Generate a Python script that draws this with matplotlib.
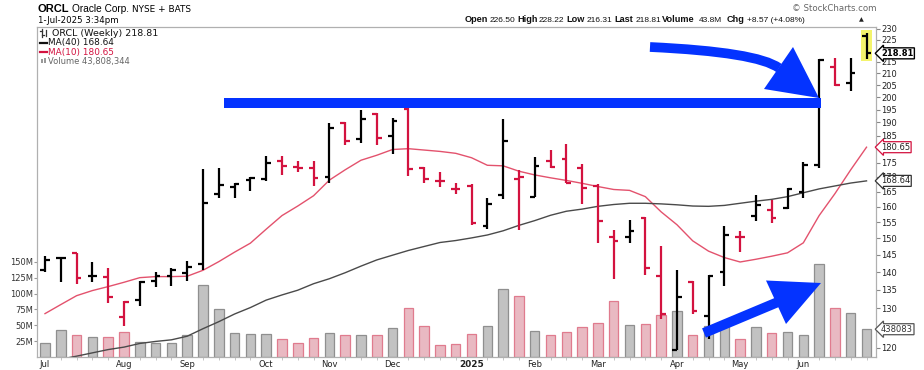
import numpy as np
import pandas as pd
import matplotlib
matplotlib.use("Agg")
import matplotlib.pyplot as plt
import matplotlib.ticker as mticker
from matplotlib.patches import Rectangle, Polygon, PathPatch
from matplotlib.path import Path
from matplotlib.lines import Line2D
from matplotlib.transforms import Affine2D, blended_transform_factory

# ---------------- data (weekly ORCL) ----------------
week_start = "2024-07-01"
prev_close_before = 141.2

opens = [140.6, 144.0, 145.4, 139.0, 138.6, 127.8, 132.1, 137.4, 139.0, 139.7,
         142.3, 164.3, 166.5, 168.9, 169.2, 175.6, 173.5, 173.3, 169.9, 189.9,
         183.7, 193.4, 184.7, 195.3, 173.0, 168.7, 166.0, 166.9, 153.9, 163.9,
         169.2, 163.3, 175.7, 176.5, 173.3, 166.9, 150.3, 150.5, 156.3, 138.8,
         119.3, 137.2, 127.9, 140.1, 150.5, 156.9, 158.9, 159.6, 164.9, 174.2,
         213.0, 205.8, 226.50]
highs = [144.8, 144.4, 145.6, 142.8, 141.1, 131.9, 137.4, 140.1, 141.3, 143.3,
         172.8, 173.1, 167.8, 169.9, 177.6, 177.6, 175.5, 175.7, 189.7, 190.3,
         195.0, 193.7, 191.7, 195.7, 173.6, 171.9, 167.8, 167.7, 162.8, 191.4,
         172.5, 177.2, 179.5, 182.0, 174.6, 167.4, 152.6, 155.7, 156.5, 147.7,
         140.6, 137.4, 139.2, 153.7, 152.1, 163.7, 162.2, 166.3, 175.3, 216.4,
         216.6, 216.9, 228.22]
lows = [140.1, 137.1, 136.7, 137.1, 131.4, 125.4, 130.7, 135.8, 136.2, 137.4,
        140.6, 162.8, 162.8, 165.1, 168.7, 170.7, 171.9, 166.8, 168.0, 181.5,
        182.2, 181.5, 178.2, 170.5, 168.0, 166.6, 164.2, 154.0, 152.9, 162.5,
        152.7, 163.1, 173.2, 167.8, 160.9, 148.5, 137.9, 148.7, 139.2, 127.2,
        119.3, 128.6, 122.0, 136.0, 145.9, 155.3, 154.8, 159.2, 163.0, 173.1,
        204.8, 202.6, 216.31]
closes = [143.6, 144.1, 138.3, 138.8, 133.1, 131.6, 137.1, 138.8, 140.6, 141.4,
          161.1, 167.2, 167.7, 169.8, 174.9, 173.8, 173.0, 169.6, 188.0, 183.1,
          191.3, 184.1, 190.6, 172.9, 169.2, 168.7, 166.0, 154.6, 160.8, 183.0,
          169.9, 173.8, 173.4, 168.0, 166.3, 155.3, 149.3, 152.1, 141.1, 128.6,
          133.0, 129.2, 138.9, 151.1, 150.5, 160.6, 156.4, 165.9, 174.2, 216.0,
          205.2, 210.24, 218.81]
volumes_m = [22.4, 42.4, 35.0, 30.9, 30.9, 39.2, 24.0, 22.4, 22.4, 34.0,
             113.3, 75.0, 37.7, 36.1, 36.1, 28.2, 22.4, 29.8, 37.7, 35.0,
             35.0, 35.0, 45.6, 76.6, 49.2, 18.3, 20.8, 36.6, 48.2, 107.5,
             95.5, 40.8, 35.0, 39.2, 47.1, 53.4, 87.6, 50.8, 51.9, 66.0,
             72.4, 35.0, 48.7, 48.7, 27.7, 46.6, 37.7, 39.2, 35.0, 146.9,
             76.6, 68.7, 43.808344]
ma10 = [128.6, 131.0, 133.4, 134.8, 135.9, 137.1, 138.4, 138.7, 138.7, 138.8,
        140.5, 143.0, 145.8, 148.5, 152.8, 157.1, 160.2, 163.6, 168.9, 172.5,
        175.9, 177.7, 179.8, 180.1, 179.6, 179.1, 178.4, 176.8, 174.1, 173.9,
        172.0, 170.7, 169.7, 168.8, 167.8, 166.7, 165.7, 165.4, 163.3, 158.3,
        154.2, 149.2, 146.1, 144.2, 142.9, 143.7, 144.6, 145.6, 148.6, 157.1,
        164.3, 172.5, 180.65]
ma40 = [116.5, 117.2, 117.9, 118.7, 119.5, 120.1, 121.0, 121.5, 121.9, 122.8,
        124.7, 126.5, 128.5, 130.2, 132.2, 133.6, 134.9, 136.7, 138.1, 139.8,
        141.7, 143.5, 144.9, 146.3, 147.5, 148.7, 149.3, 150.1, 151.0, 152.3,
        154.0, 155.5, 157.2, 158.5, 159.2, 160.1, 160.7, 161.1, 161.1, 160.9,
        160.6, 160.2, 160.1, 160.4, 161.1, 161.8, 162.4, 163.3, 164.6, 165.9,
        166.9, 167.9, 168.64]
price_ticks = list(range(120, 231, 5))
volume_ticks_m = [25, 50, 75, 100, 125, 150]

header_items = [("Open", True), ("226.50", False), ("High", True), ("228.22", False),
                ("Low", True), ("216.31", False), ("Last", True), ("218.81", False),
                ("Volume", True), ("43.8M", False), ("Chg", True), ("+8.57 (+4.08%)", False)]

# ---------------- figure ----------------
W, H = 924, 370
fig = plt.figure(figsize=(W / 100, H / 100), dpi=100)
L, R, T, B = 37, 876, 27, 357
rect = [L / W, 1 - B / H, (R - L) / W, (B - T) / H]
pix = Affine2D().scale(1 / W, -1 / H).translate(0, 1) + fig.transFigure

n = len(closes)
idx = np.arange(n)
dates = pd.date_range(week_start, periods=n, freq="W-MON")
o = np.array(opens); h = np.array(highs); lo = np.array(lows); c = np.array(closes)
prev = np.concatenate([[prev_close_before], c[:-1]])
up = c >= prev

BLACK = "#000000"
RED = "#d3123f"
bar_cols = np.where(up, BLACK, RED)

# volume axis (behind)
axv = fig.add_axes(rect)
ax = axv.twinx()
vfill = np.where(up, "#c2c2c2", "#e9b9c2")
vedge = np.where(up, "#8f8f8f", "#e07b8e")
axv.bar(idx, volumes_m, width=0.6, color=vfill, edgecolor=vedge, linewidth=0.9, zorder=2)
axv.set_ylim(0, (B - T) / 15.86 * 25)
axv.set_xlim(-0.506, 52.6)
axv.yaxis.set_major_locator(mticker.FixedLocator(volume_ticks_m))
axv.yaxis.set_major_formatter(mticker.FuncFormatter(lambda v, p: f"{int(v)}M"))
axv.tick_params(axis="y", left=True, length=2, pad=1, labelsize=6, colors="#333333")
axv.tick_params(axis="y", color="#999999")

# month ticks
month_idx, month_lab = [], []
for i, d in enumerate(dates):
    if i == 0 or d.month != dates[i - 1].month:
        month_idx.append(i)
        month_lab.append(str(d.year) if d.month == 1 else d.strftime("%b"))
axv.set_xticks(month_idx)
axv.set_xticklabels(month_lab)
axv.set_xticks(idx, minor=True)
axv.tick_params(axis="x", which="major", length=0, pad=2, labelsize=6, colors="#222222")
axv.tick_params(axis="x", which="minor", length=2, color="#bbbbbb")
for t in axv.get_xticklabels():
    if t.get_text().isdigit():
        t.set_fontweight("bold")
        t.set_fontsize(6.4)

# price axis (log)
ax.set_yscale("log")
ax.set_ylim(117.7, 230.9)
ax.set_xlim(-0.506, 52.6)
ax.yaxis.set_major_locator(mticker.FixedLocator(price_ticks))
ax.yaxis.set_minor_locator(mticker.NullLocator())
ax.yaxis.set_major_formatter(mticker.FuncFormatter(lambda v, p: f"{int(round(v))}"))
ax.tick_params(axis="y", right=True, length=3, pad=1, labelsize=6, colors="#222222")
ax.tick_params(axis="y", color="#888888")
for a in (ax, axv):
    for s in a.spines.values():
        s.set_color("#b0b0b0")
        s.set_linewidth(0.8)

# highlight last bar
ax.add_patch(Rectangle((n - 1 - 0.35, lo[-1] * 0.995), 0.72,
                       h[-1] * 1.006 - lo[-1] * 0.995, facecolor="#f4f46c",
                       edgecolor="none", zorder=1))

# moving averages
ax.plot(idx, ma10, color="#e3526d", lw=1.0, zorder=2)
ax.plot(idx, ma40, color="#4a4a4a", lw=1.0, zorder=2)

# OHLC bars
tick = 0.3
ax.vlines(idx, lo, h, colors=bar_cols, lw=1.6, zorder=3)
ax.hlines(o, idx - tick, idx, colors=bar_cols, lw=1.6, zorder=3)
ax.hlines(c, idx, idx + tick, colors=bar_cols, lw=1.6, zorder=3)

# right-edge value markers (drawn over the tick labels, as in the reference)
xa = (881 - L) / (R - L)
tr = blended_transform_factory(ax.transAxes, ax.transData)
trv = blended_transform_factory(ax.transAxes, axv.transData)
ax.text(xa, c[-1], f"{c[-1]:.2f}", transform=tr, ha="left", va="center", fontsize=6,
        fontweight="bold", color="black", zorder=10,
        bbox=dict(boxstyle="larrow,pad=0.12", fc="white", ec="black", lw=1.0))
ax.text(xa, ma10[-1], f"{ma10[-1]:.2f}", transform=tr, ha="left", va="center", fontsize=6,
        color="#222222", zorder=10,
        bbox=dict(boxstyle="larrow,pad=0.12", fc="white", ec=RED, lw=0.9))
ax.text(xa, ma40[-1], f"{ma40[-1]:.2f}", transform=tr, ha="left", va="center", fontsize=6,
        color="#222222", zorder=10,
        bbox=dict(boxstyle="larrow,pad=0.12", fc="white", ec="#333333", lw=0.9))
ax.text(xa, volumes_m[-1], f"{int(volumes_m[-1] * 1e4)}", transform=trv, ha="left",
        va="center", fontsize=6, color="#333333", zorder=10, clip_on=False,
        bbox=dict(boxstyle="larrow,pad=0.12", fc="white", ec="#555555", lw=0.9))

# ---------------- header ----------------
def ftext(x, y, s, **kw):
    kw.setdefault("va", "center")
    return fig.text(x / W, 1 - y / H, s, **kw)

ftext(37.5, 9, "ORCL", fontsize=8.0, fontweight="bold", family="Liberation Sans")
ftext(72.5, 9.5, "Oracle Corp.", fontsize=7.3, family="Liberation Sans")
ftext(132.5, 9.5, "NYSE + BATS", fontsize=6.4, family="DejaVu Sans")
ftext(37.5, 20.5, "1-Jul-2025 3:34pm", fontsize=6.2, family="DejaVu Sans")
ftext(876, 8.5, "\u00a9 StockCharts.com", ha="right", fontsize=6.2, color="#666666")

hx = [465, 490, 517, 539, 566, 587, 614, 636, 662, 699, 727, 747]
for (txt, bold), x in zip(header_items, hx):
    ftext(x, 20, txt, fontsize=6.6 if bold else 6.0, fontweight="bold" if bold else "normal",
          family="Liberation Sans", color="#111111")
ftext(859, 19.5, "\u25b2", fontsize=4.5, color="#222222")

# legend inside plot
ftext(52, 33, f"ORCL (Weekly) {c[-1]:.2f}", fontsize=6.8, family="DejaVu Sans", color="#111111")
fig.add_artist(Line2D([42, 42], [29, 37], transform=pix, color="#333", lw=0.9))
fig.add_artist(Line2D([40, 42], [31, 31], transform=pix, color="#333", lw=0.9))
fig.add_artist(Line2D([42, 44], [35, 35], transform=pix, color="#333", lw=0.9))
fig.add_artist(Line2D([46, 46], [30, 36], transform=pix, color="#333", lw=0.9))
fig.add_artist(Line2D([40, 47], [42.7, 42.7], transform=pix, color="#111", lw=1.6))
ftext(48, 42.7, f"MA(40) {ma40[-1]:.2f}", fontsize=6.4, family="DejaVu Sans", color="#111111")
fig.add_artist(Line2D([40, 47], [52.3, 52.3], transform=pix, color=RED, lw=1.6))
ftext(48, 52.3, f"MA(10) {ma10[-1]:.2f}", fontsize=6.4, family="DejaVu Sans", color=RED)
fig.add_artist(Rectangle((41, 59), 2, 4, transform=pix, fc="#999", ec="none"))
fig.add_artist(Rectangle((44, 57.5), 2, 5.5, transform=pix, fc="#999", ec="none"))
ftext(48, 61.5, f"Volume {int(round(volumes_m[-1] * 1e6)):,}", fontsize=6.0,
      family="DejaVu Sans", color="#666666")

# ---------------- blue annotations ----------------
BLUE = "#0433ff"
fig.add_artist(Rectangle((224, 98), 597, 9.7, transform=pix, fc=BLUE, ec="none", zorder=6))
# curved arrow at top
shaft = Path([(650, 47), (757, 52), (779, 68)], [Path.MOVETO, Path.CURVE3, Path.CURVE3])
fig.add_artist(PathPatch(shaft, transform=pix, fc="none", ec=BLUE, lw=7.0,
                         capstyle="butt", zorder=6))
fig.add_artist(Polygon([(764, 89), (793, 47), (819, 98)], closed=True, transform=pix,
                       fc=BLUE, ec="none", zorder=6))
# lower straight arrow
fig.add_artist(Line2D([704, 778], [333, 302], transform=pix, color=BLUE, lw=7.2,
                      solid_capstyle="butt", zorder=6))
fig.add_artist(Polygon([(766, 280.5), (786, 324), (821, 283)], closed=True, transform=pix,
                       fc=BLUE, ec="none", zorder=6))

fig.savefig("out.png", dpi=100)
